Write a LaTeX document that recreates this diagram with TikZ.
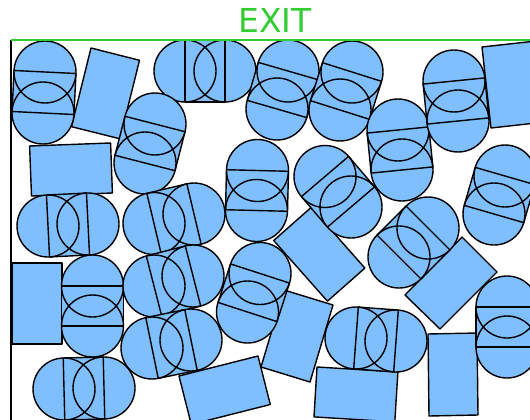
\documentclass[tikz,border=0pt]{standalone}
\usepackage{fontspec}
\setmainfont{DejaVu Sans}
\usetikzlibrary{calc}
\definecolor{bodyblue}{RGB}{128,191,255}
\definecolor{exitgreen}{RGB}{51,204,51}
\begin{document}
\begin{tikzpicture}[x=1pt, y=-1pt,
    line width=1.4pt, line join=round,
    body/.style={draw=black,fill=bodyblue},
    wall/.style={line width=1.8pt}]
  \useasboundingbox (0,0) rectangle (530,420);

  % Rectangulos
  \draw[body] (91,48)--(139.5,60.3)--(120,138.8)--(71.5,126.7)--cycle;
  \draw[body] (29.6,146)--(110.6,143)--(112.4,193)--(31.5,196)--cycle;
  \draw[body] (482,47)--(531.7,41.5)--(540.7,122.5)--(491,128)--cycle;
  \draw[body] (12,263)--(62,263)--(62,344)--(12,344)--cycle;
  \draw[body] (179,376)--(258,356)--(270.3,404.5)--(191.3,424.5)--cycle;
  \draw[body] (273.7,240.5)--(311.2,207.4)--(364.9,268.1)--(327.4,301.2)--cycle;
  \draw[body] (405,295)--(462,237)--(497,272)--(440,329)--cycle;
  \draw[body] (317,367)--(397.9,371.9)--(394.8,421.9)--(314,416.9)--cycle;
  \draw[body] (428,334)--(477,333)--(478,415)--(429,416)--cycle;
  \draw[body] (284,290)--(333,305)--(310,382)--(261,367)--cycle;

  % Capsulas
  \foreach \ax/\ay/\bx/\by in {45/72/43/113, 185/71/225/71, 155/124/145/163,
      288/71/277/109, 352/72/340/110, 398/130/402/170, 454/81/458/121,
      325/176.5/351/207, 505/176/494/214, 48/226/88/224, 154/223.5/194/214,
      92.5/286/92.5/326, 154/286/193/276, 260/273.5/247.5/312,
      152/348/191/340, 64/389/104/388, 399/257/428/228, 507/307/507/347,
      356/338/396/341, 257.5/170.5/256.5/210.5}{
    \coordinate (a) at (\ax,\ay);
    \coordinate (b) at (\bx,\by);
    \fill[bodyblue] (a) circle[radius=31] (b) circle[radius=31];
    \fill[bodyblue] ($(a)!31pt!90:(b)$)--($(b)!31pt!-90:(a)$)
      --($(b)!31pt!90:(a)$)--($(a)!31pt!-90:(b)$)--cycle;
    \draw (a) circle[radius=31] (b) circle[radius=31];
    \draw ($(a)!31pt!90:(b)$)--($(b)!31pt!-90:(a)$)
      --($(b)!31pt!90:(a)$)--($(a)!31pt!-90:(b)$)--cycle;
  }

  % Paredes
  \draw[wall] (11,40)--(11,420);
  \draw[exitgreen,line width=2.6pt] (11,40)--(530,40);
  \node[text=exitgreen,font=\fontsize{33}{33}\selectfont] (exit) at (275,20) {EXIT};
\end{tikzpicture}
\end{document}
